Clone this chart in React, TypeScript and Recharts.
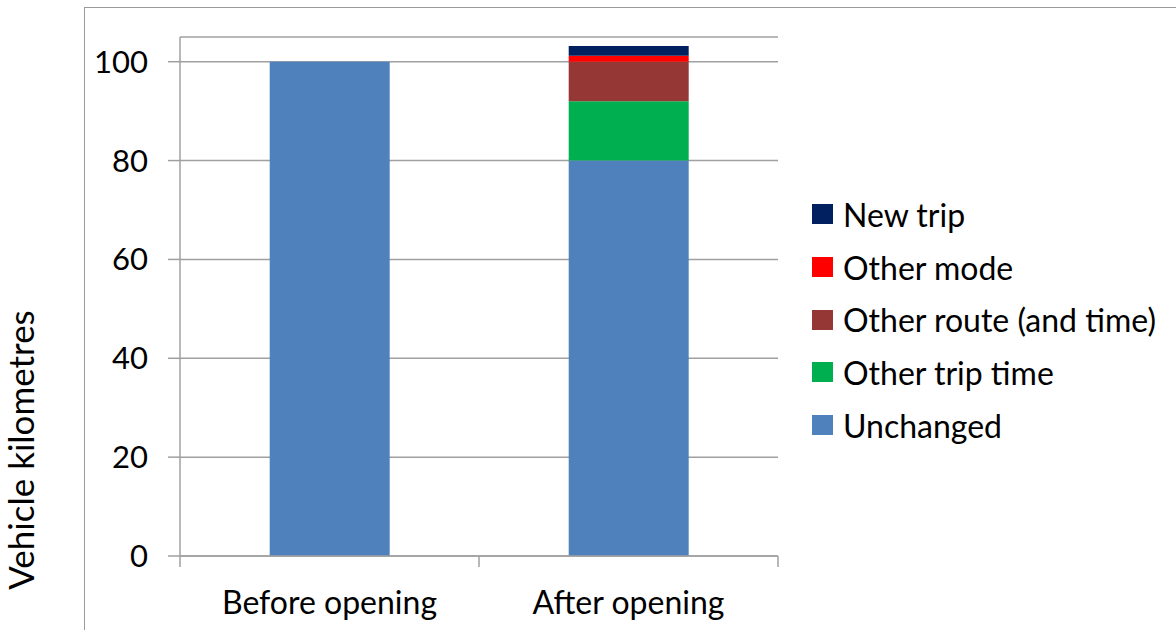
import React from 'react';
import { BarChart, Bar, XAxis, YAxis, CartesianGrid } from 'recharts';

const categories = ['Before opening', 'After opening'];
const unchanged = [100, 80];
const otherTripTime = [0, 12];
const otherRoute = [0, 8];
const otherMode = [0, 1.2];
const newTrip = [0, 2];
const yTicks = [0, 20, 40, 60, 80, 100];

const series = [
  { key: 'unchanged', name: 'Unchanged', color: '#4F81BD', values: unchanged },
  { key: 'otherTripTime', name: 'Other trip time', color: '#00B050', values: otherTripTime },
  { key: 'otherRoute', name: 'Other route (and time)', color: '#953735', values: otherRoute },
  { key: 'otherMode', name: 'Other mode', color: '#FF0000', values: otherMode },
  { key: 'newTrip', name: 'New trip', color: '#002060', values: newTrip },
];

const data = categories.map((name, i) => {
  const row: Record<string, string | number> = { name };
  series.forEach(s => { row[s.key] = s.values[i]; });
  return row;
});

const FONT = 'Lato, "Open Sans", sans-serif';
const AXIS = '#A0A0A0';

// category label with tick marks on the band edges (Excel style)
const CategoryTick = (props: any) => {
  const { x, y, payload, index } = props;
  const half = payload && payload.offset ? payload.offset : 149.5;
  const last = index === categories.length - 1;
  return (
    <g>
      <line x1={x - half} x2={x - half} y1={y} y2={y + 11} stroke={AXIS} strokeWidth={1.5} />
      {last && <line x1={x + half} x2={x + half} y1={y} y2={y + 11} stroke={AXIS} strokeWidth={1.5} />}
      <text x={x} y={y + 58} textAnchor="middle" fontSize={32} fontFamily={FONT} fill="#000">
        {payload.value}
      </text>
    </g>
  );
};

export default function App() {
  return (
    <div style={{ position: 'absolute', left: 0, top: 0, width: 1176, height: 630, overflow: 'hidden', background: '#fff', fontFamily: FONT }}>
      {/* outer chart frame, cut off at right and bottom */}
      <div style={{ position: 'absolute', left: 84, top: 7, width: 1200, height: 700, borderLeft: '1.5px solid #9a9a9a', borderTop: '1.5px solid #9a9a9a' }} />
      <div style={{ position: 'absolute', left: 0, top: 0 }}>
        <BarChart
          width={1176}
          height={630}
          data={data}
          margin={{ top: 37, right: 398, bottom: 14, left: 80 }}
          barCategoryGap="30%"
        >
          <CartesianGrid horizontal vertical={false} stroke={AXIS} strokeWidth={1.5} />
          <XAxis
            dataKey="name"
            height={60}
            stroke={AXIS}
            strokeWidth={1.5}
            tickLine={false}
            tickSize={0}
            tickMargin={0}
            tick={<CategoryTick />}
          />
          <YAxis
            width={100}
            domain={[0, 105]}
            ticks={yTicks}
            stroke={AXIS}
            strokeWidth={1.5}
            tickSize={12}
            tick={{ fill: '#000', fontSize: 31, fontFamily: FONT, dx: -18 }}
            label={{
              content: () => (
                <text x={34} y={450} transform="rotate(-90 34 450)" textAnchor="middle" fontSize={35} fontFamily={FONT} fill="#000">
                  Vehicle kilometres
                </text>
              ),
            }}
          />
          {series.map(s => (
            <Bar key={s.key} dataKey={s.key} name={s.name} stackId="a" fill={s.color} isAnimationActive={false} />
          ))}
        </BarChart>
      </div>
      {/* legend */}
      <div style={{ position: 'absolute', left: 812, top: 188 }}>
        {[...series].reverse().map(s => (
          <div key={s.key} style={{ display: 'flex', alignItems: 'center', height: 52.7 }}>
            <div style={{ width: 21, height: 20, background: s.color, marginRight: 10 }} />
            <span style={{ fontSize: 32, color: '#000', whiteSpace: 'nowrap' }}>{s.name}</span>
          </div>
        ))}
      </div>
    </div>
  );
}
